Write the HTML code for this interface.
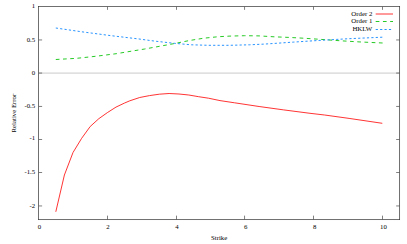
<!DOCTYPE html>
<html><head><meta charset="utf-8"><title>plot</title>
<style>
html,body{margin:0;padding:0;background:#fff;}
body{width:407px;height:244px;overflow:hidden;font-family:"Liberation Serif",serif;}
svg{display:block;}
</style></head><body>
<svg width="407" height="244" viewBox="0 0 407 244">
<line x1="38.62" y1="73.08" x2="399.65" y2="73.08" stroke="#a0a0a0" stroke-width="0.56"/>
<rect x="38.62" y="6.55" width="361.03" height="213.10" fill="none" stroke="#383838" stroke-width="0.72"/>
<path d="M107.50,219.35 v-3.7 M107.50,6.85 v3.0 M176.50,219.35 v-3.7 M176.50,6.85 v3.0 M244.55,219.35 v-3.7 M244.55,6.85 v3.0 M313.50,219.35 v-3.7 M313.50,6.85 v3.0 M382.50,219.35 v-3.7 M382.50,6.85 v3.0 M38.92,39.95 h3.2 M399.35,39.95 h-3.2 M38.92,73.05 h3.2 M399.35,73.05 h-3.2 M38.92,106.45 h3.2 M399.35,106.45 h-3.2 M38.92,139.50 h3.2 M399.35,139.50 h-3.2 M38.92,172.50 h3.2 M399.35,172.50 h-3.2 M38.92,205.95 h3.2 M399.35,205.95 h-3.2" stroke="#2a2a2a" stroke-width="0.6" fill="none"/>
<g font-family="'Liberation Serif', serif" font-size="6.8" fill="#000">
<g text-anchor="middle">
<text x="39.4" y="228.8">0</text>
<text x="108" y="228.8">2</text>
<text x="177" y="228.8">4</text>
<text x="245.7" y="228.8">6</text>
<text x="314.6" y="228.8">8</text>
<text x="383.4" y="228.8">10</text>
<text x="219.1" y="240">Strike</text>
<text x="15.8" y="113.1" transform="rotate(-90 15.8 113.1)" dx="0" dy="0">Relative Error</text>
</g>
<g text-anchor="end">
<text x="35.2" y="7.9">1</text>
<text x="35.2" y="42.05">0.5</text>
<text x="35.2" y="74.65">0</text>
<text x="35.2" y="108.2">-0.5</text>
<text x="35.2" y="140.45">-1</text>
<text x="35.2" y="174.35">-1.5</text>
<text x="35.2" y="207.7">-2</text>
<text x="372.3" y="15.8">Order 2</text>
<text x="372.3" y="22.7">Order 1</text>
<text x="372.3" y="30.85">HKLW</text>
</g>
</g>
<path d="M55.8,211.8 L64.4,175.0 L73.0,152.5 L81.6,138.4 L90.2,126.5 L98.8,118.7 L107.4,112.6 L116.0,107.1 L124.6,103.0 L129.8,100.8 L139.7,97.5 L149.5,95.6 L159.3,94.2 L169.1,93.5 L179.0,94.0 L188.8,95.0 L198.6,96.7 L208.5,98.2 L220.0,100.6 L234.6,102.8 L259.1,106.5 L283.7,109.9 L310.0,113.3 L324.6,115.0 L349.1,118.4 L382.3,123.3" fill="none" stroke="#ff0000" stroke-width="0.8" stroke-linejoin="round"/>
<path d="M55.8,59.5 L76.9,58.3 L96.5,56.2 L116.2,53.7 L130.0,51.4 L144.7,49.0 L159.5,46.3 L174.2,43.6 L189.0,40.6 L203.7,38.2 L218.5,36.7 L230.0,36.1 L244.6,35.7 L259.3,35.9 L274.0,36.8 L288.8,37.4 L303.5,38.2 L318.3,39.2 L339.3,40.7 L359.0,41.9 L382.6,43.0" fill="none" stroke="#00c000" stroke-width="0.85" stroke-dasharray="3.7 3.524"/>
<path d="M55.8,28.0 L81.8,31.8 L111.3,35.7 L138.3,38.9 L154.6,41.1 L174.2,43.3 L191.4,44.8 L208.6,45.3 L230.0,45.3 L249.5,44.8 L264.2,44.1 L279.0,43.1 L293.7,42.1 L308.5,41.1 L324.6,40.1 L349.0,38.7 L382.3,37.2" fill="none" stroke="#0080ff" stroke-width="0.85" stroke-dasharray="2.2 2.2"/>
<line x1="375.7" y1="14.00" x2="393" y2="14.00" stroke="#ff0000" stroke-width="0.8"/>
<line x1="375.7" y1="21.50" x2="393" y2="21.50" stroke="#00c000" stroke-width="0.85" stroke-dasharray="3.7 3.524"/>
<line x1="375.7" y1="29.50" x2="393" y2="29.50" stroke="#0080ff" stroke-width="0.85" stroke-dasharray="2.2 2.2"/>
</svg></body></html>
